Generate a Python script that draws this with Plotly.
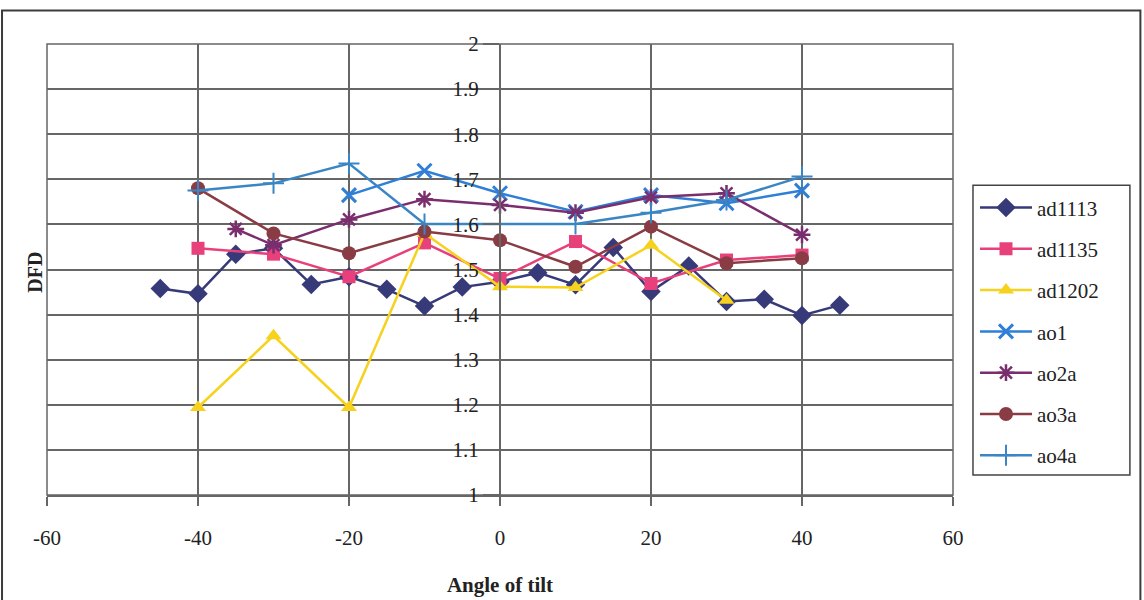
import plotly.graph_objects as go

# Tilt angles (degrees) per specimen and the measured fractal dimension (DFD)
ad1113_x = [-45, -40, -35, -30, -25, -20, -15, -10, -5, 0, 5, 10, 15, 20, 25, 30, 35, 40, 45]
ad1113_y = [1.458, 1.446, 1.534, 1.547, 1.467, 1.484, 1.456, 1.419, 1.461, 1.473,
            1.493, 1.466, 1.549, 1.451, 1.508, 1.429, 1.434, 1.398, 1.421]

ad1135_x = [-40, -30, -20, -10, 0, 10, 20, 30, 40]
ad1135_y = [1.547, 1.534, 1.484, 1.559, 1.480, 1.562, 1.469, 1.521, 1.532]

ad1202_x = [-40, -30, -20, -10, 0, 10, 20, 30]
ad1202_y = [1.194, 1.353, 1.194, 1.580, 1.462, 1.460, 1.554, 1.432]

ao1_x = [-20, -10, 0, 10, 20, 30, 40]
ao1_y = [1.665, 1.719, 1.669, 1.628, 1.665, 1.647, 1.675]

ao2a_x = [-35, -30, -20, -10, 0, 10, 20, 30, 40]
ao2a_y = [1.590, 1.554, 1.611, 1.656, 1.643, 1.626, 1.660, 1.669, 1.577]

ao3a_x = [-40, -30, -20, -10, 0, 10, 20, 30, 40]
ao3a_y = [1.680, 1.580, 1.536, 1.584, 1.565, 1.506, 1.595, 1.514, 1.525]

ao4a_x = [-40, -30, -20, -10, 0, 10, 20, 30, 40]
ao4a_y = [1.675, 1.691, 1.735, 1.601, 1.601, 1.601, 1.626, 1.654, 1.706]

x_ticks = [-60, -40, -20, 0, 20, 40, 60]
x_tick_text = ["-60", "-40", "-20", "0", "20", "40", "60"]
y_ticks = [1, 1.1, 1.2, 1.3, 1.4, 1.5, 1.6, 1.7, 1.8, 1.9, 2]
y_tick_text = ["1", "1.1", "1.2", "1.3", "1.4", "1.5", "1.6", "1.7", "1.8", "1.9", "2"]

W, H = 1144, 600
L, R, T, B = 46.5, 1144 - 953, 43.5, 600 - 495
PW, PH = W - L - R, H - T - B

def px_x(p):
    return (p - L) / PW

def px_y(p):
    return (H - B - p) / PH

FONT = "Liberation Serif, Times New Roman, serif"
TEXT = "#222222"
GRID = "#666666"

series = [
    ("ad1113", ad1113_x, ad1113_y, "#363a78", dict(symbol="diamond", size=15)),
    ("ad1135", ad1135_x, ad1135_y, "#e8407a", dict(symbol="square", size=13)),
    ("ad1202", ad1202_x, ad1202_y, "#f6d21e", dict(symbol="triangle-up", size=14)),
    ("ao1", ao1_x, ao1_y, "#2f7fd6", dict(symbol="x-thin", size=14,
                                        line=dict(width=3, color="#2f7fd6"))),
    ("ao2a", ao2a_x, ao2a_y, "#7a2e6e", dict(symbol="asterisk", size=14,
                                           line=dict(width=2.5, color="#7a2e6e"))),
    ("ao3a", ao3a_x, ao3a_y, "#8a3c44", dict(symbol="circle", size=14)),
    ("ao4a", ao4a_x, ao4a_y, "#3a86c4", dict(symbol="cross-thin", size=15,
                                           line=dict(width=2, color="#3a86c4"))),
]

fig = go.Figure()
for name, xs, ys, color, marker in series:
    m = dict(color=color)
    m.update(marker)
    fig.add_trace(go.Scatter(x=xs, y=ys, name=name, legendgroup=name,
                             mode="lines+markers",
                             line=dict(color=color, width=2.5), marker=m))

# Outer chart frame, plot-area border and legend box
fig.add_shape(type="rect", xref="paper", yref="paper",
              x0=px_x(1.5), x1=px_x(1140.5), y0=px_y(620), y1=px_y(10),
              line=dict(color="#3c3c3c", width=2), layer="below")
fig.add_shape(type="rect", xref="paper", yref="paper",
              x0=0, x1=1, y0=0, y1=1,
              line=dict(color=GRID, width=1.5), layer="below")
fig.add_shape(type="rect", xref="paper", yref="paper",
              x0=px_x(973), x1=px_x(1130), y0=px_y(475), y1=px_y(185),
              line=dict(color="#444444", width=1.5), layer="below")

fig.update_layout(
    width=W, height=H,
    margin=dict(l=L, r=R, t=T, b=B, autoexpand=False),
    paper_bgcolor="white", plot_bgcolor="white",
    font=dict(family=FONT, size=20, color=TEXT),
    showlegend=True,
    legend=dict(x=px_x(975), y=px_y(187), xanchor="left", yanchor="top",
                borderwidth=0, bgcolor="rgba(0,0,0,0)",
                font=dict(family=FONT, size=21, color=TEXT),
                tracegroupgap=11, itemwidth=52),
    xaxis=dict(range=[-60, 60], tickvals=x_ticks, ticktext=x_tick_text,
               automargin=False,
               showgrid=True, gridcolor=GRID, gridwidth=1.5, zeroline=False,
               showline=True, linecolor=GRID, linewidth=1.5,
               ticks="outside", ticklen=9, tickcolor=GRID, tickwidth=1.5,
               ticklabelstandoff=14,
               tickfont=dict(family=FONT, size=21, color=TEXT),
               title=dict(text="<b>Angle of tilt</b>", standoff=28,
                          font=dict(family=FONT, size=21, color=TEXT))),
    yaxis=dict(range=[1, 2], tickvals=y_ticks, ticktext=y_tick_text,
               automargin=False,
               anchor="free", position=px_x(499.5),
               showgrid=True, gridcolor=GRID, gridwidth=1.5, zeroline=False,
               showline=True, linecolor=GRID, linewidth=1.5,
               ticks="outside", ticklen=16, tickcolor=GRID, tickwidth=1.5,
               tickfont=dict(family=FONT, size=21, color=TEXT),
               title=dict(text="")),
)

fig.add_annotation(text="<b>DFD</b>", xref="paper", yref="paper",
                   x=px_x(22), y=px_y(272), textangle=-90, showarrow=False,
                   font=dict(family=FONT, size=20, color=TEXT))

fig.write_html("out.html")
